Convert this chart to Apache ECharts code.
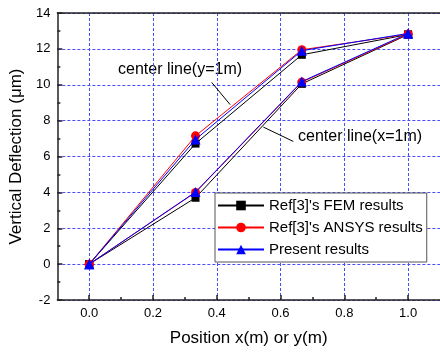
<!DOCTYPE html>
<html><head><meta charset="utf-8">
<script src="https://cdn.jsdelivr.net/npm/echarts@6/dist/echarts.min.js"></script>
<style>html,body{margin:0;padding:0;background:#fff}#c{width:440px;height:353px}</style>
</head><body><div id="c"></div>
<script>
// positions along the center lines (m)
const xPos = [0, 0.3333, 0.6667, 1.0];
// center line (y=1m) -- upper curves
const femY1 = [0, 6.72, 11.67, 12.80];
const ansysY1 = [0, 7.15, 11.95, 12.82];
const presentY1 = [0, 6.95, 11.90, 12.86];
// center line (x=1m) -- lower curves
const femX1 = [0, 3.70, 10.05, 12.80];
const ansysX1 = [0, 4.00, 10.15, 12.82];
const presentX1 = [0, 4.02, 10.18, 12.86];

const seriesNames = ["Ref[3]'s FEM results", "Ref[3]'s ANSYS results", "Present results"];
const xTicks = [0, 0.2, 0.4, 0.6, 0.8, 1.0];
const xMinorTicks = [0.1, 0.3, 0.5, 0.7, 0.9];

// annotation arrows in data space [from, to]
const arrowY1 = [[0.384, 10.13], [0.442, 8.89]];
const arrowX1 = [[0.640, 6.84], [0.546, 7.64]];

const FONT = 'Liberation Sans, Arial, sans-serif';
const gridBlue = '#4a4aff';
const axisColor = '#222';

function pts(ys) { return xPos.map((x, i) => [x, ys[i]]); }

const styles = [
  { color: '#000000', symbol: 'rect', size: 8 },
  { color: '#ff0000', symbol: 'circle', size: 9 },
  { color: '#0000ff', symbol: 'triangle', size: 10 }
];
const upper = [femY1, ansysY1, presentY1];
const lower = [femX1, ansysX1, presentX1];

const series = [];
for (let k = 0; k < 3; k++) {
  [upper[k], lower[k]].forEach(ys => {
    series.push({
      name: seriesNames[k], type: 'line', xAxisIndex: 0, yAxisIndex: 0,
      data: pts(ys), symbol: styles[k].symbol, symbolSize: styles[k].size,
      showAllSymbol: true,
      lineStyle: { color: styles[k].color, width: 1 },
      itemStyle: { color: styles[k].color },
      emphasis: { disabled: true }, animation: false, z: 3 + k
    });
  });
}
series.push({
  type: 'line', data: [], xAxisIndex: 0, yAxisIndex: 0, animation: false,
  markLine: {
    silent: true, symbol: ['none', 'arrow'], symbolSize: [0, 8],
    lineStyle: { color: '#000', width: 1, type: 'solid' }, label: { show: false },
    animation: false,
    data: [
      [{ coord: arrowY1[0] }, { coord: arrowY1[1] }],
      [{ coord: arrowX1[0] }, { coord: arrowX1[1] }]
    ]
  }
});

const chart = echarts.init(document.getElementById('c'), null, { renderer: 'canvas' });
chart.setOption({
  animation: false,
  grid: { left: 57, top: 13, right: -2, bottom: 53, containLabel: false },
  xAxis: [
    {
      type: 'value', min: -0.1, max: 1.1, position: 'bottom',
      name: 'Position x(m) or y(m)', nameLocation: 'middle', nameGap: 30,
      nameTextStyle: { fontFamily: FONT, fontSize: 17, color: '#000' },
      axisLine: { show: true, onZero: false, lineStyle: { color: axisColor, width: 1.5 } },
      axisTick: { show: true, inside: true, length: 5, customValues: xTicks, lineStyle: { color: axisColor, width: 1.5 } },
      axisLabel: { customValues: xTicks, formatter: v => v.toFixed(1), fontFamily: FONT, fontSize: 13, color: '#000', margin: 7 },
      splitLine: { show: true, lineStyle: { color: gridBlue, width: 1, type: [3, 2] } }
    },
    {
      type: 'value', min: -0.1, max: 1.1, position: 'bottom',
      axisLine: { show: false, onZero: false },
      axisTick: { show: true, inside: true, length: 3, customValues: xMinorTicks, lineStyle: { color: axisColor, width: 1.5 } },
      axisLabel: { show: false }, splitLine: { show: false }
    },
    {
      type: 'value', min: -0.1, max: 1.1, position: 'top',
      axisLine: { show: true, onZero: false, lineStyle: { color: axisColor, width: 1.5 } },
      axisTick: { show: false }, axisLabel: { show: false }, splitLine: { show: false }
    }
  ],
  yAxis: [{
    type: 'value', min: -2, max: 14, interval: 2,
    name: 'Vertical Deflection (\u03bcm)', nameLocation: 'middle', nameGap: 29,
    nameTextStyle: { fontFamily: FONT, fontSize: 17, color: '#000' },
    axisLine: { show: true, onZero: false, lineStyle: { color: axisColor, width: 1.5 } },
    axisTick: { show: true, inside: true, length: 5, lineStyle: { color: axisColor, width: 1.5 } },
    minorTick: { show: true, splitNumber: 2, length: 3, lineStyle: { color: axisColor, width: 1.5 } },
    axisLabel: { fontFamily: FONT, fontSize: 13, color: '#000', margin: 7 },
    splitLine: { show: true, lineStyle: { color: gridBlue, width: 1, type: [3, 2] } }
  }],
  legend: {
    orient: 'vertical', left: 215, top: 193,
    data: seriesNames,
    backgroundColor: '#fff', borderColor: '#555', borderWidth: 1, borderRadius: 0,
    padding: [5, 4, 5, 2], itemWidth: 46, itemHeight: 12, itemGap: 7,
    textStyle: { fontFamily: FONT, fontSize: 15, color: '#000' },
    selectedMode: false
  },
  graphic: [
    { type: 'text', x: 118, y: 70, style: { text: 'center line(y=1m)', font: '16px ' + FONT, fill: '#000', align: 'left', verticalAlign: 'middle' } },
    { type: 'text', x: 298, y: 137, style: { text: 'center line(x=1m)', font: '16px ' + FONT, fill: '#000', align: 'left', verticalAlign: 'middle' } }
  ],
  series: series
});
</script></body></html>
